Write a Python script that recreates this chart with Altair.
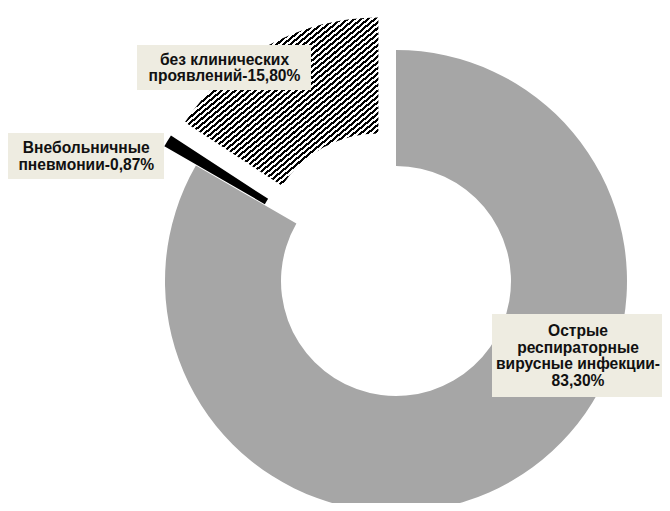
import math
import numpy as np
import pandas as pd
import altair as alt

# ---- data ----
categories = ["Острые респираторные вирусные инфекции",
              "Внебольничные пневмонии",
              "без клинических проявлений"]
values = [83.30, 0.87, 15.80]
label_names = ["Острые\nреспираторные\nвирусные инфекции",
               "Внебольничные\nпневмонии",
               "без клинических\nпроявлений"]
label_seps = ["-\n", "-", "-"]

labels = [n + s + f"{v:.2f}".replace(".", ",") + "%"
          for n, s, v in zip(label_names, label_seps, values)]

df = pd.DataFrame({"category": categories, "value": values,
                   "order": list(range(len(values))), "label": labels})

# ---- layout / style ----
CX, CY = 388, 273
R_OUT, R_IN = 231, 115
EXPLODE = [0, 37, 37]
BOX_FILL = "#eeece1"
FONT_SIZE = 15.6
LINE_H = 16.5
label_boxes = [(484, 306, 660, 389), (0, 125, 156, 171), (129, 37, 303, 82)]
label_text_x = [570, 78.3, 216.5]

total = float(sum(values))
cum = np.cumsum(values)
start = cum - np.array(values)
a0 = start / total * 2 * math.pi
a1 = cum / total * 2 * math.pi
mid = (a0 + a1) / 2
dxs = [e * math.sin(m) for e, m in zip(EXPLODE, mid)]
dys = [-e * math.cos(m) for e, m in zip(EXPLODE, mid)]


def hatch_gradient(i, angle_deg=40, period=4.4):
    cx, cy = CX + dxs[i], CY + dys[i]
    angs = np.linspace(a0[i], a1[i], 400)
    xs = np.concatenate([cx + R_OUT * np.sin(angs), cx + R_IN * np.sin(angs)])
    ys = np.concatenate([cy - R_OUT * np.cos(angs), cy - R_IN * np.cos(angs)])
    W = xs.max() - xs.min()
    H = ys.max() - ys.min()
    t = math.radians(angle_deg)
    sx, sy = math.cos(t), -math.sin(t)
    ux, uy = -sy / H, sx / W
    c = (ux + uy) / (ux * ux + uy * uy)
    gx, gy = c * ux, c * uy
    length = abs(sy) * W + abs(sx) * H
    n = int(round(length / period))
    stops = []
    for k in range(n):
        o0 = k / n
        o1 = (k + 0.5) / n
        o2 = (k + 1) / n
        stops += [{"offset": o0, "color": "#000000"},
                  {"offset": o1, "color": "#000000"},
                  {"offset": o1, "color": "#ffffff"},
                  {"offset": o2, "color": "#ffffff"}]
    return {"gradient": "linear", "x1": 0, "y1": 0, "x2": gx, "y2": gy,
            "stops": stops}


fills = ["#a6a6a6", "#000000", hatch_gradient(2)]

base = alt.Chart(df).transform_window(
    cum="sum(value)", sort=[alt.SortField("order")]
).transform_calculate(start="datum.cum - datum.value")

theta_scale = alt.Scale(domain=[0, total], range=[0, 2 * math.pi])

layers = []
for i in range(len(values)):
    arc = base.transform_filter(alt.datum.order == i).mark_arc(
        x=CX + dxs[i], y=CY + dys[i], radius=R_OUT, radius2=R_IN,
        fill=fills[i], strokeWidth=0
    ).encode(
        theta=alt.Theta("start:Q", scale=theta_scale, stack=False),
        theta2="cum:Q",
    )
    layers.append(arc)

for i in range(len(values)):
    x0, y0, x1, y1 = label_boxes[i]
    n_lines = labels[i].count("\n") + 1
    y_first = (y0 + y1) / 2 - (n_lines - 1) * LINE_H / 2 + 0.36 * FONT_SIZE
    rect = alt.Chart(df).transform_filter(alt.datum.order == i).mark_rect(
        fill=BOX_FILL
    ).encode(x=alt.value(x0), x2=alt.value(x1), y=alt.value(y0), y2=alt.value(y1))
    txt = alt.Chart(df).transform_filter(alt.datum.order == i).mark_text(
        x=label_text_x[i], y=y_first, align="center", baseline="alphabetic",
        font="Liberation Sans", fontWeight="bold", fontSize=FONT_SIZE,
        lineHeight=LINE_H, lineBreak="\n", color="#111111"
    ).encode(text="label:N")
    layers += [rect, txt]

chart = alt.layer(*layers).properties(
    width=654, height=495, padding=0,
    autosize=alt.AutoSizeParams(type="none")
).configure_view(strokeWidth=0)

chart.save("out.html", embed_options={"renderer": "svg", "actions": False})
